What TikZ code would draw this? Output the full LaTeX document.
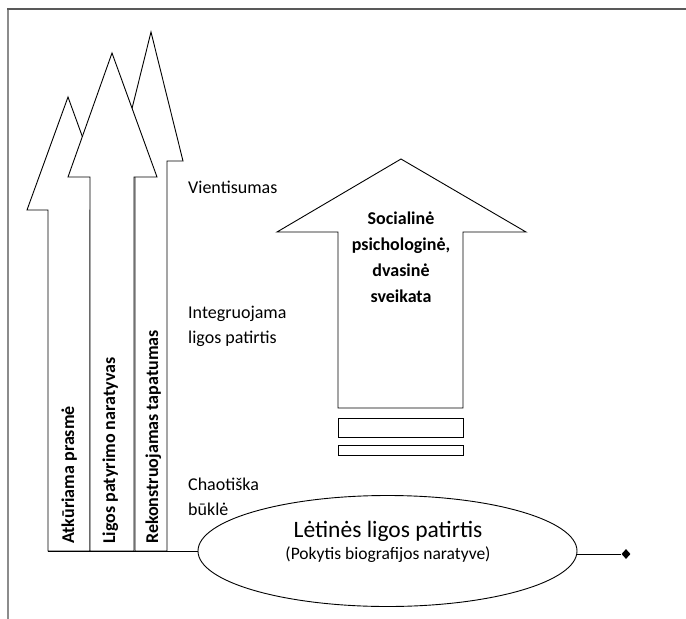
\documentclass[tikz,border=0pt]{standalone}
\usepackage{fontspec}
\setmainfont{Carlito}
\usetikzlibrary{shapes.geometric}
\tikzset{upshape/.style = {draw, fill = white, line width = 0.9pt, line join = miter}}
\tikzset{lvl/.style = {anchor = west, align = left, inner sep = 0, font = \fontsize{18}{25}\selectfont}}
\tikzset{vlabel/.style = {rotate = 90, anchor = base west, inner sep = 0, font = \fontsize{18}{22}\selectfont\bfseries}}

\begin{document}
\begin{tikzpicture}[x=1pt, y=-1pt]
    \useasboundingbox (0,0) rectangle (686,619);
    % page edge
    \draw[color = black!45, line width = 1.6pt] (8,619) -- (8,9);
    \draw[color = black!65, line width = 1.2pt] (7,9) -- (686,9);
    % three rising arrows, the back one first
    \draw[upshape] (135,551) -- (135,161) -- (119,161) -- (151,32) -- (183,161) -- (167,161) -- (167,551) -- cycle;
    \draw[upshape] (48,551) -- (48,210) -- (27,210) -- (68,97) -- (109,210) -- (90,210) -- (90,551) -- cycle;
    \draw[upshape] (90,551) -- (90,177) -- (68,177) -- (112,53) -- (157,177) -- (134,177) -- (134,551) -- cycle;
    \node[vlabel] (prasme) at (74,544) {Atkūriama prasmė};
    \node[vlabel] (naratyvas) at (115,544) {Ligos patyrimo naratyvas};
    \node[vlabel] (tapatumas) at (158,544) {Rekonstruojamas tapatumas};
    % levels
    \node[lvl] (vientisumas) at (188,187) {Vientisumas};
    \node[lvl] (integruojama) at (188,326) {Integruojama\\ligos patirtis};
    \node[lvl] (chaotiska) at (188,497) {Chaotiška\\būklė};
    % big arrow and the bars under it
    \draw[upshape] (338,408) -- (338,232) -- (277,232) -- (401,159) -- (526,232) -- (463,232) -- (463,408) -- cycle;
    \draw[upshape] (338,418) rectangle (463,437);
    \draw[upshape] (338,445) rectangle (463,455);
    \node[align = center, inner sep = 0, font = \fontsize{18}{26}\selectfont\bfseries] (sveikata) at (401,257) {Socialinė\\psichologinė,\\dvasinė\\sveikata};
    % chronic illness
    \node[ellipse, draw, line width = 0.9pt, inner sep = 0, minimum width = 379, minimum height = 111] (patirtis) at (387.5,551) {};
    \node[anchor = base, font = \fontsize{23.5}{28}\selectfont] (patirtis-t) at (388,537) {Lėtinės ligos patirtis};
    \node[anchor = base, font = \fontsize{17.5}{21}\selectfont] (patirtis-s) at (388,559) {(Pokytis biografijos naratyve)};
    \coordinate (shaftbase) at (48,551);
    \draw[line width = 0.9pt] (shaftbase) -- (patirtis.west);
    \node[diamond, fill, inner sep = 0, minimum width = 9, minimum height = 10] (pabaiga) at (626,554) {};
    \draw[line width = 0.9pt] (patirtis.east |- pabaiga) -- (pabaiga);
\end{tikzpicture}
\end{document}
